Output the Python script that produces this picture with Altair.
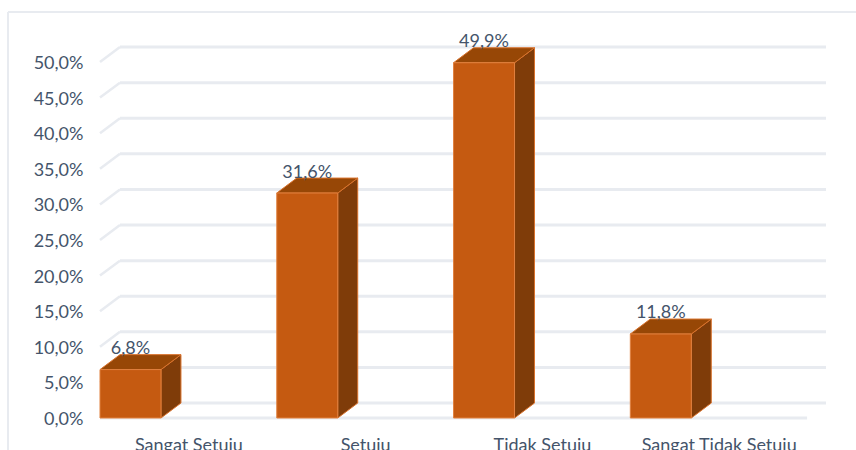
import altair as alt
import pandas as pd

categories = ["Sangat Setuju", "Setuju", "Tidak Setuju", "Sangat Tidak Setuju"]
values = [6.8, 31.6, 49.9, 11.8]
tick_values = [0, 5, 10, 15, 20, 25, 30, 35, 40, 45, 50]

# Box geometry, in axis units
BAR_W = 0.345
DEPTH_X = 0.113
DEPTH_Y = 2.1
X_MAX = 4.107
Y_MAX = 52.25

FONT = "Lato"
TEXT = "#44546A"
GRID = "#E8EBF0"
FONT_SIZE = 18

x_scale = alt.Scale(domain=[0, X_MAX], nice=False, zero=False)
y_scale = alt.Scale(domain=[0, Y_MAX], nice=False)

bars = pd.DataFrame({"i": range(4), "cat": categories, "v": values})
bars["x0"] = bars["i"]
bars["x1"] = bars["i"] + BAR_W
bars["label"] = [f"{v:.1f}".replace(".", ",") + "%" for v in values]
bars["xc"] = bars["x0"] + BAR_W / 2

# Back wall lines, the slanted side-wall lines and the floor edge
back = pd.DataFrame({"t": tick_values})
back["y"] = back["t"] + DEPTH_Y
back["x0"] = DEPTH_X
back["x1"] = X_MAX

slant_rows = []
for t in tick_values:
    slant_rows.append({"t": t, "x": 0, "y": t})
    slant_rows.append({"t": t, "x": DEPTH_X, "y": t + DEPTH_Y})
slants = pd.DataFrame(slant_rows)

side_rows = []
top_rows = []
for i, v in enumerate(values):
    xr = i + BAR_W
    side_rows.append({"i": i, "x": xr, "y0": 0, "y1": v})
    side_rows.append({"i": i, "x": xr + DEPTH_X, "y0": DEPTH_Y, "y1": v + DEPTH_Y})
    top_rows.append({"i": i, "y": v, "x0": i, "x1": xr})
    top_rows.append({"i": i, "y": v + DEPTH_Y, "x0": i + DEPTH_X, "x1": xr + DEPTH_X})
sides = pd.DataFrame(side_rows)
tops = pd.DataFrame(top_rows)

x_axis = alt.Axis(
    values=[0.5, 1.5, 2.5, 3.5],
    labelExpr="['Sangat Setuju','Setuju','Tidak Setuju','Sangat Tidak Setuju'][floor(datum.value)]",
    title=None, domain=False, ticks=False, grid=False,
    labelFont=FONT, labelFontSize=FONT_SIZE, labelColor=TEXT, labelPadding=18,
    labelAngle=0, labelFlush=False, labelOverlap=False,
)
y_axis = alt.Axis(
    values=tick_values,
    labelExpr="replace(format(datum.value, '.1f'), '.', ',') + '%'",
    title=None, domain=False, ticks=False, grid=False,
    labelFont=FONT, labelFontSize=FONT_SIZE, labelColor=TEXT, labelPadding=17,
    labelOverlap=False, labelSeparation=0, labelOffset=1.5,
)


def xq(field):
    return alt.X(field, scale=x_scale, axis=x_axis)


def yq(field):
    return alt.Y(field, scale=y_scale, axis=y_axis)


# Outer frame of the chart area, cut off by the canvas at right and bottom
frame_top = alt.Chart(pd.DataFrame({"a": [0]})).mark_rule(color=GRID, strokeWidth=2).encode(
    x=alt.value(-92), x2=alt.value(756), y=alt.value(-34)
)
frame_left = alt.Chart(pd.DataFrame({"a": [0]})).mark_rule(color=GRID, strokeWidth=2).encode(
    x=alt.value(-92), y=alt.value(-34), y2=alt.value(404)
)

back_lines = alt.Chart(back).mark_rule(color=GRID, strokeWidth=3).encode(
    x=xq("x0:Q"), x2="x1:Q", y=yq("y:Q"),
)
slant_lines = alt.Chart(slants).mark_line(color=GRID, strokeWidth=2.5).encode(
    x=xq("x:Q"), y=yq("y:Q"), detail="t:N",
)
floor = alt.Chart(pd.DataFrame({"x0": [0], "x1": [4], "y": [0]})).mark_rule(
    color=GRID, strokeWidth=3
).encode(x=xq("x0:Q"), x2="x1:Q", y=yq("y:Q"))

side_faces = alt.Chart(sides).mark_area(
    color="#7F3C09", stroke="#D9722C", strokeWidth=1
).encode(x=xq("x:Q"), y=yq("y0:Q"), y2="y1:Q", detail="i:N")
top_faces = alt.Chart(tops).mark_area(
    color="#974706", stroke="#D9722C", strokeWidth=1, orient="horizontal"
).encode(y=yq("y:Q"), x=xq("x0:Q"), x2="x1:Q", detail="i:N")
front_faces = alt.Chart(bars).mark_bar(
    color="#C55A11", stroke="#E0803F", strokeWidth=1
).encode(x=xq("x0:Q"), x2="x1:Q", y=yq("v:Q"), y2=alt.datum(0))
value_labels = alt.Chart(bars).mark_text(
    font=FONT, fontSize=FONT_SIZE, color=TEXT, dy=-20.5, baseline="middle", align="center"
).encode(x=xq("xc:Q"), y=yq("v:Q"), text="label:N")

chart = alt.layer(
    frame_top, frame_left, back_lines, slant_lines, floor,
    side_faces, top_faces, front_faces, value_labels,
).properties(
    width=726, height=372,
    padding={"left": 100, "top": 46, "right": 30, "bottom": 32},
    autosize=alt.AutoSizeParams(type="none"),
    background="white",
).configure_view(stroke=None)

chart.save("out.html", embed_options={"renderer": "svg", "actions": False})
